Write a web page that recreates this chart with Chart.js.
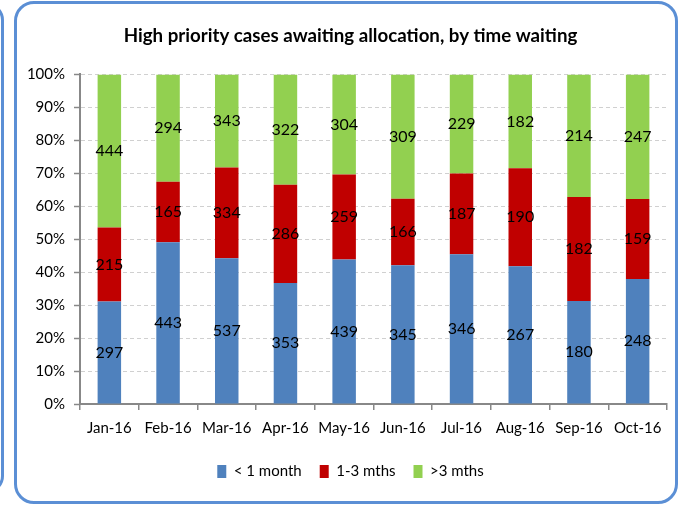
<!DOCTYPE html>
<html>
<head>
<meta charset="utf-8">
<script src="https://cdn.jsdelivr.net/npm/chart.js@4.4.0/dist/chart.umd.min.js"></script>
<style>
  body { margin:0; background:#fff; }
  #wrap { position:relative; width:678px; height:505px; overflow:hidden; }
  #chart { position:absolute; left:0; top:0; }
  .box { position:absolute; border:3px solid #5b8fd5; border-radius:20px; box-sizing:border-box; pointer-events:none; }
</style>
</head>
<body>
<div id="wrap">
  <canvas id="chart" width="678" height="505"></canvas>
  <div class="box" style="left:-30px; top:3px; width:34px; height:490px;"></div>
  <div class="box" style="left:14px; top:1px; width:664px; height:503px;"></div>
</div>
<script>
// Sample data
const months = ['Jan-16','Feb-16','Mar-16','Apr-16','May-16','Jun-16','Jul-16','Aug-16','Sep-16','Oct-16'];
const underOne = [297, 443, 537, 353, 439, 345, 346, 267, 180, 248];
const oneToThree = [215, 165, 334, 286, 259, 166, 187, 190, 182, 159];
const overThree = [444, 294, 343, 322, 304, 309, 229, 182, 214, 247];
const seriesNames = ['< 1 month', '1-3 mths', '>3 mths'];
const yTicks = ['0%','10%','20%','30%','40%','50%','60%','70%','80%','90%','100%'];

const FONT = 'Lato, "Open Sans", sans-serif';
const totals = months.map((m, i) => underOne[i] + oneToThree[i] + overThree[i]);
const pct = arr => arr.map((v, i) => v / totals[i] * 100);

// draws the counts in the middle of each segment
const countLabels = {
  id: 'countLabels',
  afterLayout(chart){
    // let the y labels run past the narrow scale box without being clipped
    chart.scales.y.left = 0;
  },
  afterDatasetsDraw(chart){
    const ctx = chart.ctx;
    ctx.save();
    ctx.font = '16px ' + FONT;
    ctx.fillStyle = '#000';
    ctx.textAlign = 'center';
    ctx.textBaseline = 'middle';
    chart.data.datasets.forEach((ds, di) => {
      chart.getDatasetMeta(di).data.forEach((bar, i) => {
        ctx.fillText(ds.counts[i], bar.x, (bar.y + bar.base) / 2);
      });
    });
    ctx.restore();
  }
};

const ctx = document.getElementById('chart').getContext('2d');
new Chart(ctx, {
  type: 'bar',
  data: {
    labels: months,
    datasets: [
      { label: seriesNames[0], data: pct(underOne), counts: underOne, backgroundColor: '#4f81bd' },
      { label: seriesNames[1], data: pct(oneToThree), counts: oneToThree, backgroundColor: '#c00000' },
      { label: seriesNames[2], data: pct(overThree), counts: overThree, backgroundColor: '#92d050' }
    ]
  },
  options: {
    responsive: false,
    animation: false,
    barPercentage: 0.4,
    categoryPercentage: 1,
    layout: { padding: { left: 34, right: 11, top: 20, bottom: 16 } },
    plugins: {
      title: {
        display: true,
        text: 'High priority cases awaiting allocation, by time waiting',
        color: '#000',
        font: { family: FONT, size: 18.7, weight: 'bold' },
        padding: { top: 5, bottom: 27 }
      },
      legend: {
        position: 'bottom',
        labels: {
          color: '#000',
          font: { family: FONT, size: 15 },
          boxWidth: 9, boxHeight: 13,
          padding: 18
        }
      },
      tooltip: { enabled: false }
    },
    scales: {
      x: {
        stacked: true,
        grid: { offset: true, drawOnChartArea: false, drawTicks: true, tickLength: 6, color: '#888', tickColor: '#888', lineWidth: 1.5 },
        border: { color: '#888', width: 2 },
        ticks: { color: '#000', font: { family: FONT, size: 15 }, padding: 9 }
      },
      y: {
        stacked: true,
        min: 0, max: 100,
        afterFit: scale => { scale.width = 46; },
        grid: { color: '#d0d0d0', tickColor: '#888', tickLength: 6, tickBorderDash: [], tickWidth: 1.5 },
        border: { color: '#888', width: 2, dash: [4, 3] },
        ticks: {
          stepSize: 10,
          color: '#000',
          font: { family: FONT, size: 15 },
          padding: 9,
          callback: (v, i) => yTicks[i]
        }
      }
    }
  },
  plugins: [countLabels]
});
</script>
</body>
</html>
